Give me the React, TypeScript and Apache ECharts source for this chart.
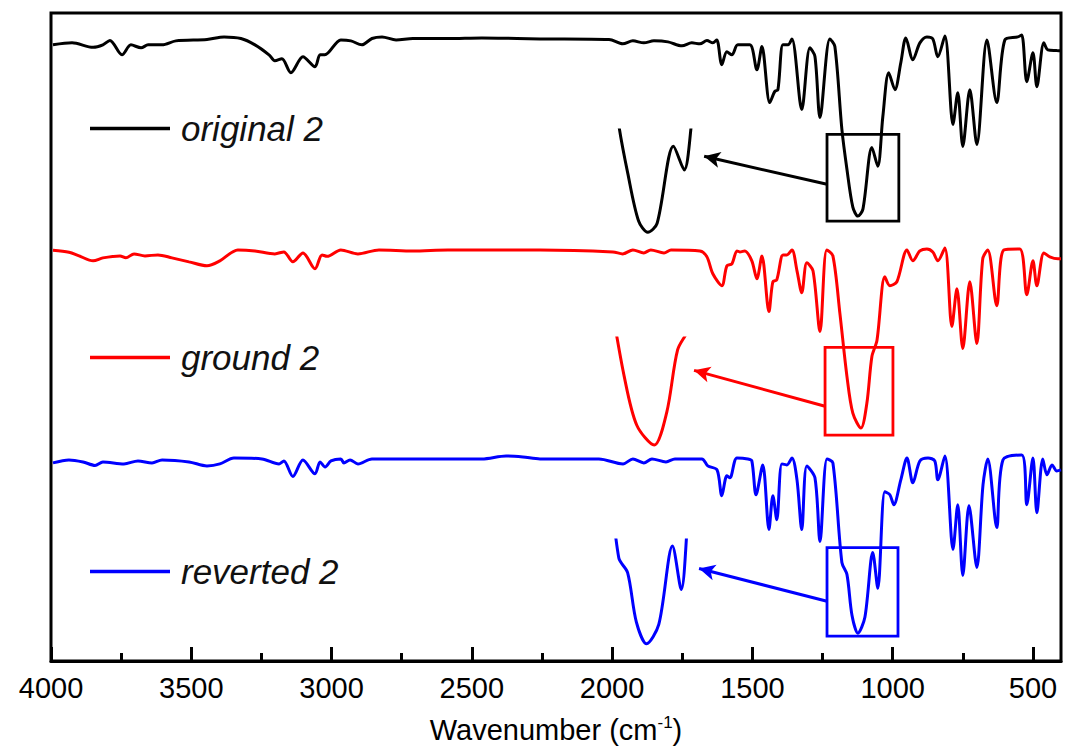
import React, { useEffect, useRef } from "react";
import * as echarts from "echarts";

// [wavenumber (cm-1), transmittance (a.u., offset per trace)]
const original2: [number, number][] = [
  [3993, 619], [3925, 621], [3850, 616.5], [3815, 619], [3790, 623.4], [3747, 609], [3715, 619], [3679, 616],
  [3654, 619], [3604, 619], [3555, 623], [3444, 624.4], [3383, 627], [3323, 625.4], [3273, 619], [3223, 609],
  [3202, 603], [3177, 605], [3145, 591], [3102, 607], [3059, 597], [3041, 609], [3024, 609], [2967, 624],
  [2931, 623], [2892, 619], [2856, 625.4], [2820, 627], [2770, 624], [2710, 625.4], [2585, 625.4], [2464, 626],
  [2339, 625.4], [2257, 625], [2011, 624.4], [1962, 620], [1926, 623], [1887, 621], [1851, 623], [1801, 622],
  [1751, 618], [1716, 621], [1687, 620], [1662, 623.3], [1641, 621], [1627, 624], [1609, 599], [1591, 612],
  [1573, 609], [1552, 619], [1509, 619], [1484, 594], [1466, 617.3], [1438, 561], [1420, 572.3], [1409, 574],
  [1391, 619], [1373, 619], [1359, 625], [1324, 554], [1295, 616], [1277, 607.3], [1259, 546], [1224, 625],
  [1206, 617.3], [1181, 534], [1163, 494], [1142, 456], [1124, 447], [1106, 454], [1074, 516], [1053, 497],
  [1035, 547], [1014, 591], [992, 574], [971, 601], [953, 626], [928, 604], [903, 621], [878, 627],
  [857, 625], [839, 607], [814, 628], [785, 539], [768, 571], [750, 517], [725, 574], [700, 519],
  [664, 624], [629, 561], [600, 624], [554, 627], [540, 629], [522, 582], [500, 611], [486, 577],
  [461, 621], [447, 614], [415, 613.3], [400, 613],
];

const ground2: [number, number][] = [
  [3993, 412.7], [3936, 410.6], [3900, 407], [3850, 402], [3815, 405], [3754, 407], [3733, 405], [3704, 409],
  [3665, 407], [3619, 408], [3569, 405], [3508, 401], [3444, 397], [3398, 402], [3334, 413], [3273, 412],
  [3202, 409], [3170, 411], [3138, 401], [3102, 410], [3059, 394], [3034, 408], [3016, 406.5], [2967, 413],
  [2906, 409], [2831, 413], [2710, 412], [2585, 413], [2464, 413], [2339, 413], [2257, 413], [1997, 411],
  [1962, 409], [1926, 413], [1887, 410], [1862, 413], [1815, 410], [1790, 413], [1687, 412], [1662, 406],
  [1641, 389], [1609, 377], [1591, 397], [1573, 399], [1555, 412], [1545, 411], [1527, 412], [1502, 402],
  [1484, 384], [1466, 407], [1441, 351], [1427, 381], [1413, 383], [1391, 408], [1377, 408], [1359, 413],
  [1341, 392], [1324, 370], [1306, 400], [1284, 392], [1259, 331], [1235, 413], [1213, 407], [1188, 349],
  [1163, 286], [1142, 249], [1113, 234], [1092, 259], [1074, 306], [1056, 322], [1028, 386], [1010, 377],
  [985, 381], [949, 413], [928, 402], [903, 412], [878, 414], [857, 411], [839, 402], [814, 415],
  [789, 336], [771, 374], [750, 314], [725, 381], [700, 319], [679, 404], [661, 413], [629, 357],
  [604, 413], [547, 414], [522, 368], [500, 402], [486, 377], [461, 410], [440, 406], [411, 404], [400, 404],
];

const reverted2: [number, number][] = [
  [3993, 199], [3936, 202], [3886, 200], [3843, 196.5], [3815, 200], [3740, 198], [3690, 201], [3640, 199],
  [3604, 202], [3508, 200], [3444, 196], [3398, 198], [3348, 204], [3248, 203], [3187, 198], [3170, 201],
  [3138, 185.4], [3102, 202], [3059, 188], [3041, 200], [3023, 195], [3002, 201], [2967, 203], [2956, 199],
  [2934, 202], [2906, 198], [2856, 203], [2795, 203], [2710, 203], [2585, 203], [2464, 203], [2378, 206],
  [2318, 205], [2257, 203], [2047, 203], [1961, 198], [1926, 203], [1887, 199], [1858, 203], [1808, 200],
  [1776, 203], [1680, 203], [1659, 196], [1626, 192], [1609, 166], [1591, 186], [1580, 184], [1555, 204],
  [1516, 203], [1502, 201], [1487, 167], [1463, 197], [1441, 132], [1427, 166], [1413, 142], [1395, 198],
  [1377, 197], [1359, 204], [1341, 182], [1324, 132], [1306, 196], [1277, 184], [1259, 120], [1234, 203],
  [1213, 199], [1181, 99], [1163, 87], [1145, 46], [1124, 28], [1099, 44], [1071, 109], [1053, 73],
  [1028, 170], [1010, 167], [996, 157], [971, 182], [949, 204], [928, 179], [903, 201], [874, 204],
  [850, 201], [839, 182], [814, 206], [785, 112], [768, 157], [750, 86], [728, 156], [700, 94],
  [678, 177], [661, 203], [629, 134], [607, 202], [540, 207], [522, 157], [500, 204], [486, 149],
  [465, 203], [450, 187], [432, 197], [415, 191], [400, 192],
];

const seriesNames = ["original 2", "ground 2", "reverted 2"];
const seriesColors = ["#000000", "#ff0000", "#0000ff"];
const majorTicks = [4000, 3500, 3000, 2500, 2000, 1500, 1000, 500];
const minorTicks = [3750, 3250, 2750, 2250, 1750, 1250, 750];

// zoom boxes [w1, v1, w2, v2] and arrows [fromW, fromV, toW, toV]
const boxes = [
  [1234, 529, 978, 442],
  [1241, 315, 999, 227],
  [1234, 114, 981, 25],
];
const arrows = [
  [1234, 479, 1672, 507],
  [1241, 256, 1708, 292],
  [1234, 60, 1690, 93],
];
// inset axis ranges [wMin, wMax, vMin, vMax]
const insetRanges = [
  [1030, 1190, 440, 529],
  [1055, 1185, 228, 315],
  [1035, 1195, 22, 114],
];
const insetRects = [
  { left: 614, top: 130, width: 82, height: 111 },
  { left: 611, top: 338, width: 78, height: 115 },
  { left: 612, top: 540, width: 78, height: 111 },
];
const legendTops = [106, 335, 549];

const FONT = "'Liberation Sans', Arial, Helvetica, sans-serif";

export default function App() {
  const ref = useRef<HTMLDivElement>(null);
  useEffect(() => {
    if (!ref.current) return;
    const chart = echarts.init(ref.current, null, { renderer: "svg" });
    const datasets = [original2, ground2, reverted2];

    const grids: any[] = [
      { left: 51, top: 13, width: 1010, height: 651, show: true, borderColor: "#000", borderWidth: 3, backgroundColor: "transparent" },
      ...insetRects.map((r) => ({ ...r, show: false })),
    ];
    const xAxes: any[] = [
      {
        type: "value", gridIndex: 0, min: 400, max: 4000, inverse: true,
        axisLine: { show: true, lineStyle: { color: "#000", width: 3 } },
        axisTick: { show: true, inside: true, length: 14, customValues: majorTicks, lineStyle: { color: "#000", width: 3 } },
        axisLabel: {
          show: true, customValues: majorTicks, color: "#000", fontSize: 29, fontFamily: FONT, margin: 12,
          formatter: (v: number) => String(v),
        },
        splitLine: { show: false },
        name: "Wavenumber (cm{sup|-1})",
        nameLocation: "middle",
        nameGap: 53,
        nameTextStyle: {
          color: "#000", fontSize: 29, fontFamily: FONT,
          rich: { sup: { fontSize: 17, fontFamily: FONT, color: "#000", padding: [0, 0, 14, 0] } },
        },
      },
      {
        type: "value", gridIndex: 0, min: 400, max: 4000, inverse: true, position: "bottom",
        axisLine: { show: false },
        axisTick: { show: true, inside: true, length: 8, customValues: minorTicks, lineStyle: { color: "#000", width: 3 } },
        axisLabel: { show: false },
        splitLine: { show: false },
      },
      ...insetRanges.map((r, i) => ({
        type: "value", gridIndex: i + 1, min: r[0], max: r[1], inverse: true, show: false,
      })),
    ];
    const yAxes: any[] = [
      { type: "value", gridIndex: 0, min: 0, max: 651, show: false },
      ...insetRanges.map((r, i) => ({ type: "value", gridIndex: i + 1, min: r[2], max: r[3], show: false })),
    ];

    const series: any[] = [];
    datasets.forEach((d, i) => {
      const b = boxes[i];
      const a = arrows[i];
      series.push({
        name: seriesNames[i], type: "line", xAxisIndex: 0, yAxisIndex: 0, data: d,
        symbol: "none", showSymbol: false, smooth: 0.3,
        lineStyle: { color: seriesColors[i], width: 3 }, itemStyle: { color: seriesColors[i] },
        markArea: {
          silent: true, label: { show: false },
          itemStyle: { color: "rgba(0,0,0,0)", borderColor: seriesColors[i], borderWidth: 2.8 },
          data: [[{ coord: [b[0], b[1]] }, { coord: [b[2], b[3]] }]],
        },
        markLine: {
          silent: true, symbol: ["none", "arrow"], symbolSize: [12, 16], label: { show: false },
          lineStyle: { color: seriesColors[i], width: 3, type: "solid" },
          data: [[{ coord: [a[0], a[1]] }, { coord: [a[2], a[3]] }]],
        },
      });
    });
    datasets.forEach((d, i) => {
      series.push({
        name: seriesNames[i] + " (inset)", type: "line", xAxisIndex: i + 2, yAxisIndex: i + 1, data: d,
        symbol: "none", showSymbol: false, smooth: 0.3, clip: true,
        lineStyle: { color: seriesColors[i], width: 3 }, itemStyle: { color: seriesColors[i] },
      });
    });

    chart.setOption({
      animation: false,
      backgroundColor: "#ffffff",
      grid: grids,
      xAxis: xAxes,
      yAxis: yAxes,
      legend: seriesNames.map((n, i) => ({
        data: [n], left: 85, top: legendTops[i], icon: "rect", itemWidth: 80, itemHeight: 3.5,
        selectedMode: false,
        textStyle: { fontSize: 35, fontStyle: "italic", color: "#111", fontFamily: FONT, padding: [0, 0, 0, 6] },
      })),
      series,
    });
    return () => chart.dispose();
  }, []);
  return <div ref={ref} style={{ position: "absolute", left: 0, top: 0, width: 1065, height: 749, background: "#fff" }} />;
}
